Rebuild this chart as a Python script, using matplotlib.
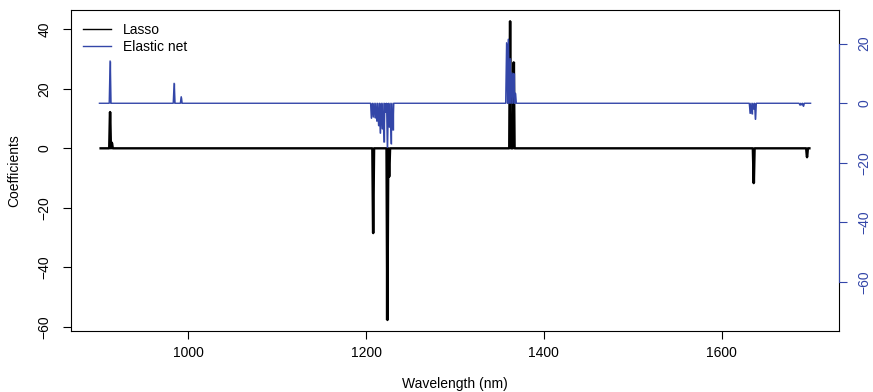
import matplotlib
matplotlib.use("Agg")
import matplotlib.pyplot as plt
import numpy as np
from matplotlib.lines import Line2D

plt.rcParams['font.family'] = ['Liberation Sans', 'DejaVu Sans']
plt.rcParams['font.size'] = 10

# wavelength grid (nm)
wl_start, wl_stop, wl_step = 900, 1700, 1

# nonzero lasso coefficients: wavelength -> value
lasso_wl = [912, 914, 1208, 1224, 1226, 1362, 1366, 1636, 1696]
lasso_val = [12.2, 1.9, -28.5, -57.7, -9.5, 42.7, 28.9, -11.7, -3.0]

# nonzero elastic net coefficients
enet_wl = [912, 984, 992,
           1206, 1208, 1210, 1212, 1214, 1216, 1218, 1220, 1222, 1224, 1226, 1228, 1230,
           1358, 1360, 1362, 1364, 1366, 1368,
           1632, 1634, 1636, 1638,
           1688, 1690, 1692]
enet_val = [14.2, 6.7, 2.2,
            -5.0, -4.5, -4.8, -6.0, -7.5, -10.0, -8.5, -13.0, -3.0, -14.8, -8.0, -13.5, -9.0,
            20.3, 21.5, 15.0, 10.2, 10.0, 3.4,
            -3.4, -3.5, -2.0, -5.4,
            -0.6, -0.5, -1.0]

xticks = [1000, 1200, 1400, 1600]
left_ticks = [-60, -40, -20, 0, 20, 40]
right_ticks = [-60, -40, -20, 0, 20]

blue = '#3346A8'

wl = np.arange(wl_start, wl_stop + wl_step, wl_step)
lasso = np.zeros(len(wl))
for w, v in zip(lasso_wl, lasso_val):
    lasso[(w - wl_start) // wl_step] = v
enet = np.zeros(len(wl))
for w, v in zip(enet_wl, enet_val):
    enet[(w - wl_start) // wl_step] = v

fig = plt.figure(figsize=(8.73, 3.92), dpi=100)
ax = fig.add_axes([0.081, 0.1556, 0.8804, 0.819])
ax2 = ax.twinx()

ax.plot(wl, lasso, color='black', lw=1.7, solid_capstyle='butt')
ax.vlines(wl[lasso != 0], 0, lasso[lasso != 0], color='black', lw=1.7)
ax2.plot(wl, enet, color=blue, lw=1.0)
ax2.vlines(wl[enet != 0], 0, enet[enet != 0], color=blue, lw=1.0)

ax.set_xlim(867.7, 1732.3)
ax.set_ylim(-61.4, 46.5)
ax2.set_ylim(-76.4, 31.3)

ax.set_xticks(xticks)
ax.set_yticks(left_ticks)
ax.set_yticklabels([str(t).replace('-', '\u2212') for t in left_ticks], rotation=90, va='center')
ax2.set_yticks(right_ticks)
ax2.set_yticklabels([str(t).replace('-', '\u2212') for t in right_ticks], rotation=90, va='center', color=blue)

ax.tick_params(axis='x', length=5.8, width=0.8, pad=5)
ax.tick_params(axis='y', length=5.8, width=0.8, pad=8)
ax2.tick_params(axis='y', length=5.8, width=0.8, pad=7, color=blue)

for s in ax.spines.values():
    s.set_linewidth(0.8)
for name in ['top', 'left', 'bottom']:
    ax2.spines[name].set_visible(False)
ax2.spines['right'].set_color(blue)
ax2.spines['right'].set_linewidth(0.8)
ax2.spines['right'].set_bounds(-60, 20)

ax.set_xlabel('Wavelength (nm)', labelpad=12)
ax.set_ylabel('Coefficients', labelpad=12)

handles = [Line2D([], [], color='black', lw=1.0), Line2D([], [], color=blue, lw=1.0)]
ax.legend(handles, ['Lasso', 'Elastic net'], loc='upper left', bbox_to_anchor=(0.016, 0.96),
          frameon=False, borderpad=0, borderaxespad=0, handlelength=2.0,
          handletextpad=0.9, labelspacing=0.25)

fig.savefig('out.png', dpi=100)
